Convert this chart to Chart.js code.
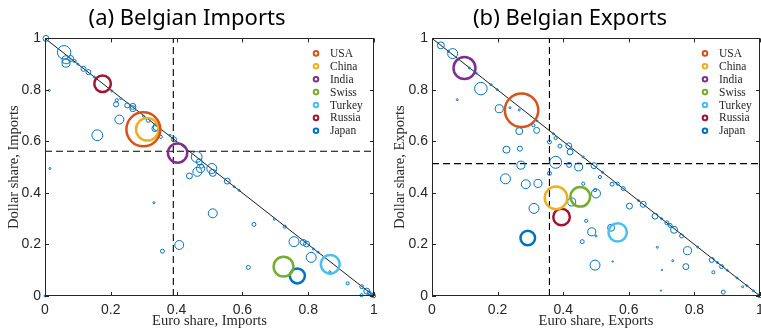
<!DOCTYPE html>
<html lang="en">
<head>
<meta charset="UTF-8">
<script src="https://cdn.jsdelivr.net/npm/chart.js"></script>
<title>Belgian trade invoicing</title>
<style>
  body { margin: 0; background: #fff; }
  .panel { position: absolute; top: 0; }
</style>
</head>
<body>
<div class="panel" style="left:0px"><canvas id="importsChart" width="380" height="329"></canvas></div>
<div class="panel" style="left:380px"><canvas id="exportsChart" width="381" height="329"></canvas></div>

<script>
// ---- data ----
const countries = ['USA', 'China', 'India', 'Swiss', 'Turkey', 'Russia', 'Japan'];
const axisTicks = [0, 0.2, 0.4, 0.6, 0.8, 1];

// imports: highlighted partners
const impCountryEuro   = [0.299, 0.311, 0.403, 0.725, 0.867, 0.175, 0.767];
const impCountryDollar = [0.647, 0.647, 0.555, 0.114, 0.123, 0.824, 0.078];
const impCountryShare  = [5.9, 2.6, 1.9, 2.0, 1.8, 1.4, 1.15];
// imports: other partners
const impOtherEuro   = [0.003, 0.058, 0.064, 0.064, 0.078, 0.090, 0.117, 0.132, 0.013, 0.203, 0.218, 0.216, 0.230, 0.250, 0.267, 0.267,
  0.226, 0.159, 0.299, 0.314, 0.339, 0.334, 0.352, 0.380, 0.392, 0.461, 0.469, 0.476, 0.507, 0.510, 0.463, 0.473, 0.439, 0.554,
  0.575, 0.510, 0.635, 0.697, 0.729, 0.757, 0.785, 0.795, 0.816, 0.809, 0.618, 0.866, 0.920, 0.963, 0.978, 0.985, 0.993, 0.962,
  0.408, 0.015, 0.331, 0.357, 0.000, 0.100, 0.150, 0.590, 0.830, 0.999];
const impOtherDollar = [1.000, 0.946, 0.917, 0.904, 0.922, 0.912, 0.882, 0.869, 0.798, 0.796, 0.760, 0.744, 0.766, 0.740, 0.736, 0.727,
  0.685, 0.624, 0.698, 0.682, 0.656, 0.650, 0.618, 0.624, 0.608, 0.540, 0.521, 0.504, 0.495, 0.478, 0.482, 0.495, 0.466, 0.446,
  0.424, 0.321, 0.278, 0.298, 0.269, 0.211, 0.208, 0.202, 0.182, 0.150, 0.111, 0.094, 0.049, 0.036, 0.019, 0.012, 0.004, 0.003,
  0.198, 0.495, 0.362, 0.174, 0.000, 0.900, 0.850, 0.410, 0.170, 0.001];
const impOtherShare  = [0.18, 0.92, 0.33, 0.33, 0.18, 0.05, 0.13, 0.13, 0.02, 0.02, 0.05, 0.13, 0.02, 0.13, 0.18, 0.18,
  0.41, 0.60, 0.02, 0.08, 0.25, 0.18, 0.05, 0.02, 0.13, 0.60, 0.18, 0.08, 0.51, 0.25, 0.41, 0.33, 0.18, 0.18,
  0.02, 0.41, 0.08, 0.02, 0.05, 0.51, 0.18, 0.18, 0.02, 0.51, 0.08, 0.02, 0.05, 0.08, 0.18, 0.08, 0.08, 0.05,
  0.41, 0.02, 0.02, 0.08, 0.02, 0.02, 0.02, 0.02, 0.02, 0.08];
const impEuroMean = 0.39;
const impDollarMean = 0.562;

// exports: highlighted partners
const expCountryEuro   = [0.273, 0.378, 0.099, 0.452, 0.566, 0.395, 0.292];
const expCountryDollar = [0.721, 0.381, 0.885, 0.385, 0.247, 0.307, 0.225];
const expCountryShare  = [5.7, 2.6, 2.47, 1.96, 1.73, 1.4, 1.09];
// exports: other partners
const expOtherEuro   = [0.027, 0.063, 0.114, 0.149, 0.077, 0.199, 0.205, 0.238, 0.266, 0.266, 0.309, 0.319, 0.227, 0.268, 0.358, 0.377,
  0.390, 0.417, 0.421, 0.271, 0.377, 0.418, 0.447, 0.358, 0.224, 0.286, 0.323, 0.461, 0.512, 0.500, 0.497, 0.426, 0.311, 0.470,
  0.487, 0.458, 0.546, 0.497, 0.549, 0.566, 0.583, 0.602, 0.644, 0.680, 0.716, 0.726, 0.738, 0.761, 0.687, 0.734, 0.779, 0.774,
  0.701, 0.698, 0.853, 0.858, 0.883, 0.888, 0.947, 0.980, 0.551, 0.500, 0.494, 0.461, 0.050, 0.135, 0.180, 0.320, 0.370, 0.520,
  0.630, 0.700, 0.810, 0.870, 0.900, 0.930, 0.960, 0.999];
const expOtherDollar = [0.973, 0.941, 0.885, 0.805, 0.762, 0.801, 0.727, 0.731, 0.722, 0.640, 0.663, 0.643, 0.568, 0.572, 0.598, 0.613,
  0.582, 0.583, 0.559, 0.508, 0.519, 0.509, 0.501, 0.476, 0.455, 0.434, 0.437, 0.436, 0.462, 0.398, 0.411, 0.365, 0.340, 0.292,
  0.249, 0.211, 0.265, 0.120, 0.434, 0.436, 0.417, 0.349, 0.356, 0.310, 0.284, 0.274, 0.257, 0.233, 0.189, 0.137, 0.176, 0.114,
  0.101, 0.021, 0.140, 0.092, 0.114, 0.015, 0.036, 0.020, 0.134, 0.233, 0.506, 0.540, 0.950, 0.865, 0.820, 0.680, 0.630, 0.480,
  0.370, 0.300, 0.190, 0.130, 0.100, 0.070, 0.040, 0.001];
const expOtherShare  = [0.25, 0.51, 0.02, 0.80, 0.02, 0.02, 0.33, 0.02, 0.02, 0.25, 0.05, 0.18, 0.25, 0.13, 0.08, 0.05,
  0.08, 0.18, 0.18, 0.33, 0.73, 0.13, 0.33, 0.08, 0.51, 0.41, 0.33, 0.05, 0.05, 0.41, 0.05, 0.33, 0.51, 0.05,
  0.33, 0.08, 0.25, 0.51, 0.08, 0.05, 0.08, 0.18, 0.18, 0.18, 0.08, 0.08, 0.25, 0.08, 0.02, 0.02, 0.33, 0.18,
  0.01, 0.01, 0.13, 0.05, 0.08, 0.08, 0.02, 0.02, 0.01, 0.02, 0.18, 0.02, 0.02, 0.02, 0.02, 0.02, 0.02, 0.02,
  0.02, 0.02, 0.02, 0.02, 0.02, 0.02, 0.02, 0.08];
const expEuroMean = 0.358;
const expDollarMean = 0.514;

// ---- styles ----
const countryColors = ['#D95319', '#EDB120', '#7E2F8E', '#77AC30', '#4DBEEE', '#A2142F', '#0072BD'];
const otherColor = '#0072BD';
const axisColor = '#262626';
const radiusOf = share => 7 * Math.sqrt(share);

// box + inward ticks, MATLAB style
const boxPlugin = {
  id: 'box',
  afterDatasetsDraw(chart) {
    const { ctx, chartArea: a, scales } = chart;
    ctx.save();
    ctx.strokeStyle = axisColor;
    ctx.lineWidth = 1;
    ctx.strokeRect(Math.round(a.left) + 0.5, Math.round(a.top) + 0.5,
      Math.round(a.right - a.left) - 1, Math.round(a.bottom - a.top) - 1);
    const len = 4;
    ctx.beginPath();
    axisTicks.forEach(v => {
      const px = Math.round(scales.x.getPixelForValue(v)) + 0.5;
      ctx.moveTo(px, a.bottom); ctx.lineTo(px, a.bottom - len);
      ctx.moveTo(px, a.top); ctx.lineTo(px, a.top + len);
      const py = Math.round(scales.y.getPixelForValue(v)) + 0.5;
      ctx.moveTo(a.left, py); ctx.lineTo(a.left + len, py);
      ctx.moveTo(a.right, py); ctx.lineTo(a.right - len, py);
    });
    ctx.stroke();
    ctx.restore();
  }
};

// legend inside the axes, top right
const innerLegend = {
  id: 'innerLegend',
  afterDraw(chart, args, opts) {
    const { ctx, chartArea: a } = chart;
    ctx.save();
    ctx.font = '11.5px "Liberation Serif"';
    ctx.textBaseline = 'middle';
    ctx.textAlign = 'left';
    ctx.fillStyle = axisColor;
    let y = a.top + 15;
    chart.data.datasets.filter(d => d.isCountry).forEach(d => {
      const mx = a.right - opts.offset;
      ctx.beginPath();
      ctx.arc(mx, y, 2.3, 0, Math.PI * 2);
      ctx.lineWidth = 2;
      ctx.strokeStyle = d.borderColor;
      ctx.stroke();
      ctx.fillText(d.label, mx + 14, y + 0.5);
      y += 12.9;
    });
    ctx.restore();
  }
};

function makeChart(id, cfg) {
  const datasets = [];
  countries.forEach((name, i) => {
    datasets.push({
      label: name,
      isCountry: true,
      data: [{ x: cfg.cEuro[i], y: cfg.cDollar[i] }],
      pointRadius: radiusOf(cfg.cShare[i]),
      borderColor: countryColors[i],
      backgroundColor: 'rgba(0,0,0,0)',
      borderWidth: 2.5,
      clip: false
    });
  });
  datasets.push({
    label: 'other',
    data: cfg.oEuro.map((x, i) => ({ x: x, y: cfg.oDollar[i] })),
    pointRadius: cfg.oShare.map(radiusOf),
    borderColor: otherColor,
    backgroundColor: 'rgba(0,0,0,0)',
    borderWidth: 1,
    clip: false
  });
  datasets.push({
    label: 'diag',
    data: [{ x: 0, y: 1 }, { x: 1, y: 0 }],
    showLine: true, pointRadius: 0, borderColor: '#000', borderWidth: 0.9
  });
  datasets.push({
    label: 'euroMean',
    data: [{ x: cfg.euroMean, y: 0 }, { x: cfg.euroMean, y: 1 }],
    showLine: true, pointRadius: 0, borderColor: '#000', borderWidth: 1.1, borderDash: [7, 4]
  });
  datasets.push({
    label: 'dollarMean',
    data: [{ x: 0, y: cfg.dollarMean }, { x: 1, y: cfg.dollarMean }],
    showLine: true, pointRadius: 0, borderColor: '#000', borderWidth: 1.1, borderDash: [7, 4]
  });

  const tickFont = { family: '"Liberation Sans", Arial, sans-serif', size: 14 };
  const labelFont = { family: '"Liberation Serif", serif', size: 14.5, lineHeight: 1 };
  const fmt = v => String(Math.round(v * 10) / 10);

  new Chart(document.getElementById(id), {
    type: 'scatter',
    data: { datasets: datasets },
    plugins: [boxPlugin, innerLegend],
    options: {
      responsive: false,
      animation: false,
      events: [],
      layout: { autoPadding: false, padding: { left: 0, right: cfg.rightPad, top: 0, bottom: 0 } },
      plugins: {
        legend: { display: false },
        tooltip: { enabled: false },
        title: {
          display: true,
          text: cfg.title,
          color: '#000',
          font: { family: '"Noto Sans", sans-serif', size: 22, weight: 'normal' },
          padding: { top: 6, bottom: 6 }
        },
        innerLegend: { offset: cfg.legendOffset }
      },
      scales: {
        x: {
          type: 'linear', min: 0, max: 1,
          grid: { display: false, drawTicks: false },
          border: { display: false },
          ticks: { color: axisColor, font: tickFont, padding: 6, maxRotation: 0, callback: fmt },
          afterBuildTicks: s => { s.ticks = axisTicks.map(v => ({ value: v })); },
          afterFit: s => { s.height = 33; s.paddingLeft = 0; s.paddingRight = 0; },
          title: { display: true, text: cfg.xTitle, color: axisColor, font: labelFont, padding: { top: 0, bottom: 1 } }
        },
        y: {
          type: 'linear', min: 0, max: 1,
          grid: { display: false, drawTicks: false },
          border: { display: false },
          ticks: { color: axisColor, font: tickFont, padding: 4, callback: fmt },
          afterBuildTicks: s => { s.ticks = axisTicks.map(v => ({ value: v })); },
          afterFit: s => { s.width = cfg.yWidth; s.paddingTop = 0; s.paddingBottom = 0; },
          title: { display: true, text: cfg.yTitle, color: axisColor, font: labelFont, padding: { top: cfg.yTitlePad, bottom: 0 } }
        }
      }
    }
  });
}

makeChart('importsChart', {
  title: '(a) Belgian Imports',
  xTitle: 'Euro share, Imports',
  yTitle: 'Dollar share, Imports',
  cEuro: impCountryEuro, cDollar: impCountryDollar, cShare: impCountryShare,
  oEuro: impOtherEuro, oDollar: impOtherDollar, oShare: impOtherShare,
  euroMean: impEuroMean, dollarMean: impDollarMean,
  yWidth: 45, rightPad: 6, yTitlePad: 7, legendOffset: 58
});

makeChart('exportsChart', {
  title: '(b) Belgian Exports',
  xTitle: 'Euro share, Exports',
  yTitle: 'Dollar share, Exports',
  cEuro: expCountryEuro, cDollar: expCountryDollar, cShare: expCountryShare,
  oEuro: expOtherEuro, oDollar: expOtherDollar, oShare: expOtherShare,
  euroMean: expEuroMean, dollarMean: expDollarMean,
  yWidth: 52, rightPad: 1, yTitlePad: 13, legendOffset: 55
});
</script>
</body>
</html>
